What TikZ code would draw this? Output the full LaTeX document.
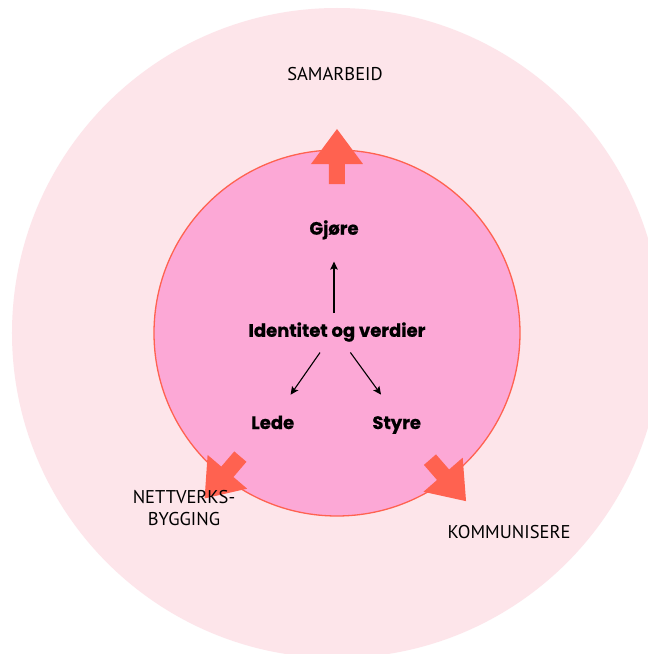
\documentclass[tikz,border=0pt]{standalone}
\usepackage{fontspec}
\setmainfont{PT Sans}
\newfontfamily\heavy{Poppins}[BoldFeatures={FakeBold=0.6}]
\usepackage{tikz}
\usetikzlibrary{arrows.meta}
\definecolor{ringpink}{RGB}{253,229,234}
\definecolor{corepink}{RGB}{252,168,214}
\definecolor{coral}{RGB}{255,98,80}

\begin{document}
\begin{tikzpicture}[x=1pt, y=1pt,
	ringlabel/.style={anchor=base, font=\fontsize{18.5}{21.7}\selectfont, align=center},
	corelabel/.style={anchor=base, font=\heavy\bfseries\fontsize{18}{20}\selectfont},
	thinarrow/.style={-{Stealth[length=8pt, width=7.5pt, inset=1.5pt]}, line width=1.1pt},
	bigarrow/.pic={\fill[coral] (-27.5,-8) -- (-7.5,-8) -- (-7.5,-26) -- (27.5,0) -- (-7.5,26) -- (-7.5,8) -- (-27.5,8) -- cycle;}]
	\useasboundingbox (-337,-321) rectangle (311,333);
	\clip (-337,-321) rectangle (311,333);
	\fill[white] (-337,-321) rectangle (311,333);
	\fill[ringpink] (0,0) circle (325);
	\filldraw[fill=corepink, draw=coral, line width=1.3pt] (0,0) circle (183);
	\pic[rotate=90] at (0,176.5) {bigarrow};
	\pic[rotate=229.5] at (-114.5,-144.5) {bigarrow};
	\pic[rotate=-49] at (111,-147.4) {bigarrow};
	\node[ringlabel] (samarbeid) at (-2,252) {SAMARBEID};
	\node[ringlabel] (nettverk) at (-153,-192) {NETTVERKS-\\BYGGING};
	\node[ringlabel] (kommuniser) at (172,-205) {KOMMUNISERE};
	\node[corelabel] (ident) at (0,-3.8) {Identitet og verdier};
	\node[corelabel] (gjore) at (-3,98.3) {Gjøre};
	\node[corelabel] (lede) at (-64.3,-96) {Lede};
	\node[corelabel] (styre) at (59.7,-96) {Styre};
	\draw[thinarrow, shorten <=23.8pt, shorten >=26.9pt] (ident.base -| gjore.base) -- (gjore.base);
	\draw[thinarrow, shorten <=19.2pt, shorten >=41.8pt] ([xshift=-6pt]ident.base) -- ([xshift=-6pt]lede.base);
	\draw[thinarrow, shorten <=19.4pt, shorten >=42.5pt] ([xshift=2pt]ident.base) -- ([xshift=9.3pt]styre.base);
	%\draw[thinarrow] (lede) -- (styre);
\end{tikzpicture}
\end{document}
